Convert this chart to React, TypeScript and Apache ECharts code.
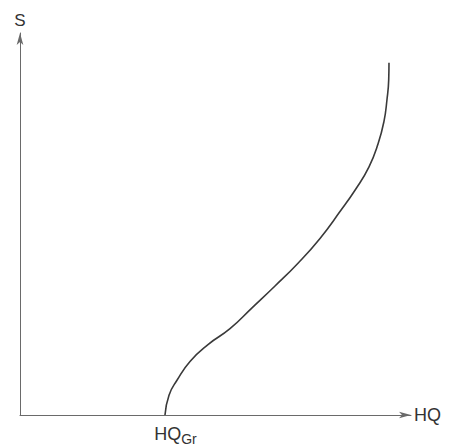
import React, { useEffect, useRef } from "react";
import * as echarts from "echarts";

const curveX = [37.08, 38.11, 40.15, 43.48, 48.08, 53.71, 59.34, 65.22, 71.1, 76.73, 81.84, 85.93, 89.26, 91.56, 93.09, 93.86, 94.3, 94.37];
const curveY = [0, 5.19, 9.09, 14.03, 18.44, 22.6, 28.05, 33.77, 39.74, 46.23, 53.25, 59.22, 64.94, 70.91, 76.88, 82.6, 87.79, 92.21];
const hqGrValue = 37.08;
const xName = "HQ";
const yName = "S";

export default function App() {
  const ref = useRef<HTMLDivElement>(null);
  useEffect(() => {
    if (!ref.current) return;
    const chart = echarts.init(ref.current, undefined, { renderer: "svg" });
    const font = "'Liberation Sans', Arial, sans-serif";
    const axisColor = "#6a6a6a";
    chart.setOption({
      animation: false,
      backgroundColor: "#fff",
      grid: { left: 20, right: 41, top: 33, bottom: 28, containLabel: false },
      xAxis: {
        type: "value",
        min: 0,
        max: 100,
        name: xName,
        nameLocation: "end",
        nameGap: 3,
        nameTextStyle: { color: "#333", fontSize: 18, fontFamily: font, verticalAlign: "middle", padding: [5, 0, 0, 0] },
        axisLine: { show: true, lineStyle: { color: axisColor, width: 1 }, symbol: ["none", "arrow"], symbolSize: [5, 12] },
        axisTick: { show: false },
        splitLine: { show: false },
        axisLabel: {
          show: true,
          customValues: [hqGrValue],
          margin: 7,
          padding: [0, 0, 0, 21],
          formatter: () => "{a|HQ}{b|Gr}",
          rich: {
            a: { fontSize: 18, color: "#333", fontFamily: font },
            b: { fontSize: 14, color: "#333", fontFamily: font, padding: [10, 0, 0, 0] },
          },
        },
      },
      yAxis: {
        type: "value",
        min: 0,
        max: 100,
        name: yName,
        nameLocation: "end",
        nameGap: 4,
        nameTextStyle: { color: "#333", fontSize: 17, fontFamily: font, align: "center" },
        axisLine: { show: true, lineStyle: { color: axisColor, width: 1 }, symbol: ["none", "arrow"], symbolSize: [5, 12] },
        axisTick: { show: false },
        splitLine: { show: false },
        axisLabel: { show: false },
      },
      series: [
        {
          type: "line",
          data: curveX.map((x, i) => [x, curveY[i]]),
          smooth: 0.5,
          showSymbol: false,
          lineStyle: { color: "#3a3a3a", width: 1.6 },
        },
      ],
    });
    return () => chart.dispose();
  }, []);
  return <div ref={ref} style={{ width: 452, height: 446, position: "absolute", left: 0, top: 0 }} />;
}
